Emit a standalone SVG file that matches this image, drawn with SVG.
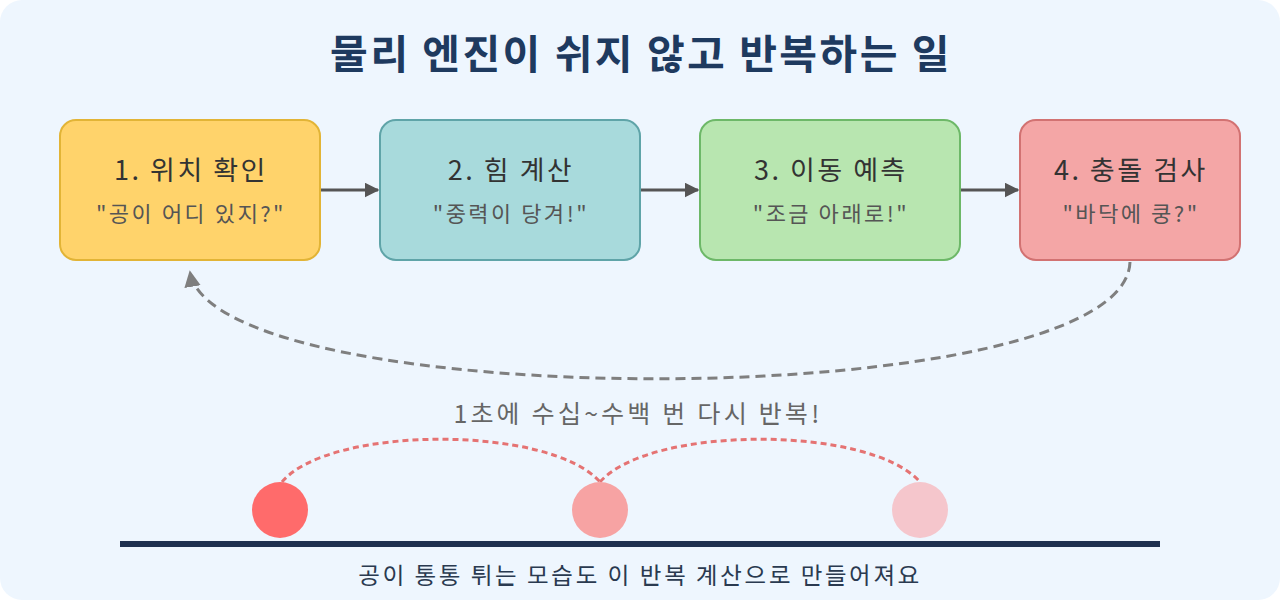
<svg xmlns="http://www.w3.org/2000/svg" width="1280" height="600" viewBox="0 0 1280 600">
<defs>
<style>
text{font-family:"Noto Sans KR","Noto Sans CJK KR",sans-serif;text-anchor:middle}
.title{font-size:41px;font-weight:700;fill:#1E3A5F;letter-spacing:2.5px}
.h{font-size:27px;fill:#333;letter-spacing:2.5px}
.s{font-size:22px;fill:#555;letter-spacing:2.5px}
.flow{stroke:#555;stroke-width:3;fill:none}
.loop{stroke:#7F7F7F;stroke-width:3;fill:none;stroke-dasharray:10 6}
.arc{stroke:#E57373;stroke-width:3;fill:none;stroke-dasharray:6 4}
</style>
<marker id="ah" viewBox="0 0 10 10" refX="9" refY="5" markerWidth="5" markerHeight="5" markerUnits="strokeWidth" orient="auto"><path d="M0,0 L10,5 L0,10 z" fill="#555"/></marker>
<marker id="ah2" viewBox="0 0 10 10" refX="9" refY="5" markerWidth="5.5" markerHeight="5.5" markerUnits="strokeWidth" orient="auto"><path d="M0,0 L10,5 L0,10 z" fill="#7F7F7F"/></marker>
</defs>
<rect x="0" y="0" width="1280" height="600" fill="#ffffff"/>
<rect x="0" y="0" width="1280" height="600" rx="22" fill="#EEF6FE"/>
<text class="title" x="641" y="69">물리 엔진이 쉬지 않고 반복하는 일</text>
<g id="connectors">
<line class="flow" x1="320" y1="190" x2="378" y2="190" marker-end="url(#ah)"/>
<line class="flow" x1="640" y1="190" x2="698" y2="190" marker-end="url(#ah)"/>
<line class="flow" x1="960" y1="190" x2="1018" y2="190" marker-end="url(#ah)"/>
<path class="loop" d="M1130,262 C1125,416 215,416 190,272" marker-end="url(#ah2)"/>
</g>
<g id="node1">
<rect x="60" y="120" width="260" height="140" rx="16" fill="#FFD36B" stroke="#E2B436" stroke-width="2"/>
<text class="h" x="191" y="180">1. 위치 확인</text>
<text class="s" x="191" y="222">"공이 어디 있지?"</text>
</g>
<g id="node2">
<rect x="380" y="120" width="260" height="140" rx="16" fill="#A8DADC" stroke="#5FA4A8" stroke-width="2"/>
<text class="h" x="511" y="180">2. 힘 계산</text>
<text class="s" x="511" y="222">"중력이 당겨!"</text>
</g>
<g id="node3">
<rect x="700" y="120" width="260" height="140" rx="16" fill="#B8E6B0" stroke="#6DB868" stroke-width="2"/>
<text class="h" x="831" y="180">3. 이동 예측</text>
<text class="s" x="831" y="222">"조금 아래로!"</text>
</g>
<g id="node4">
<rect x="1020" y="120" width="220" height="140" rx="16" fill="#F4A6A6" stroke="#D27272" stroke-width="2"/>
<text class="h" x="1131" y="180">4. 충돌 검사</text>
<text class="s" x="1131" y="222">"바닥에 쿵?"</text>
</g>
<text x="638" y="423" style="font-size:25px;fill:#666;letter-spacing:3.2px">1초에 수십~수백 번 다시 반복!</text>
<g id="bounce">
<path class="arc" d="M282,482 C330,425 550,425 600,482"/>
<path class="arc" d="M600,482 C650,425 870,425 920,482"/>
<circle cx="280" cy="510" r="28" fill="#FF6B6B"/>
<circle cx="600" cy="510" r="28" fill="#F7A3A3"/>
<circle cx="920" cy="510" r="28" fill="#F5C6CC"/>
<line x1="120" y1="544" x2="1160" y2="544" stroke="#1E3050" stroke-width="6"/>
</g>
<text x="640" y="584" style="font-size:23.5px;fill:#2A3A50;letter-spacing:2.6px">공이 통통 튀는 모습도 이 반복 계산으로 만들어져요</text>
</svg>
